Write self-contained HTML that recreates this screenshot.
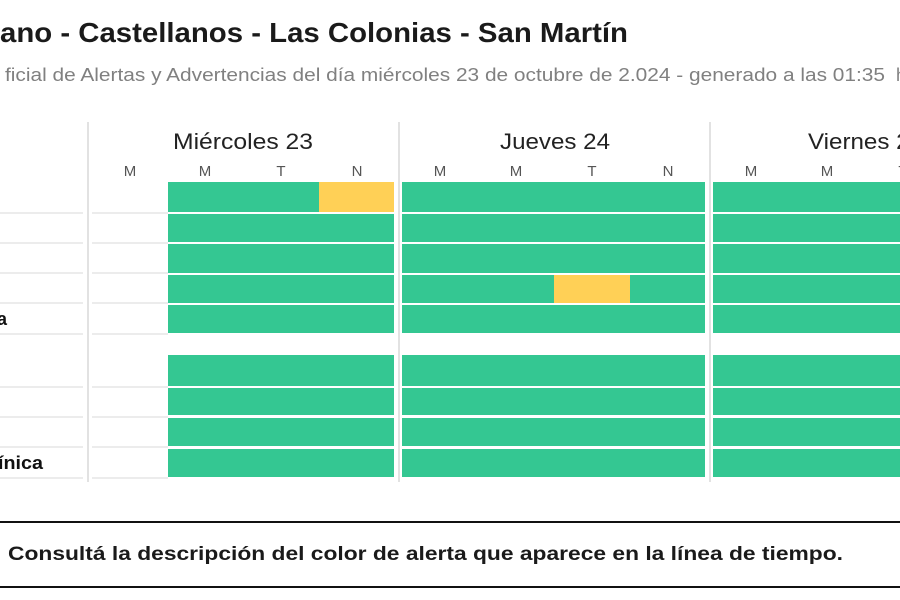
<!DOCTYPE html>
<html><head><meta charset="utf-8"><style>
html,body{margin:0;padding:0;background:#fff;width:900px;height:600px;overflow:hidden}
svg text{font-family:"Liberation Sans",sans-serif}
</style></head><body>
<svg width="900" height="600" viewBox="0 0 900 600" xmlns="http://www.w3.org/2000/svg">
<rect width="900" height="600" fill="#fff"/>
<text x="0" y="42" font-size="28" font-weight="bold" fill="#1a1a1a" textLength="628" lengthAdjust="spacingAndGlyphs">ano - Castellanos - Las Colonias - San Martín</text>
<text x="5" y="81" font-size="18" fill="#808080" textLength="880" lengthAdjust="spacingAndGlyphs">ficial de Alertas y Advertencias del día miércoles 23 de octubre de 2.024 - generado a las 01:35</text>
<text x="896" y="81" font-size="18" fill="#808080">h</text>

<rect x="87" y="122" width="2" height="360" fill="#e2e2e2"/>
<rect x="398" y="122" width="2" height="360" fill="#e2e2e2"/>
<rect x="709" y="122" width="2" height="360" fill="#e2e2e2"/>

<text x="243" y="149" font-size="22" fill="#222" text-anchor="middle" textLength="140" lengthAdjust="spacingAndGlyphs">Miércoles 23</text>
<text x="555" y="149" font-size="22" fill="#222" text-anchor="middle" textLength="110" lengthAdjust="spacingAndGlyphs">Jueves 24</text>
<text x="808" y="149" font-size="22" fill="#222" textLength="115" lengthAdjust="spacingAndGlyphs">Viernes 25</text>

<g font-size="15" fill="#555" text-anchor="middle">
<text x="130" y="176">M</text><text x="205" y="176">M</text><text x="281" y="176">T</text><text x="357" y="176">N</text>
<text x="440" y="176">M</text><text x="516" y="176">M</text><text x="592" y="176">T</text><text x="668" y="176">N</text>
<text x="751" y="176">M</text><text x="827" y="176">M</text><text x="903" y="176">T</text>
</g>

<g fill="#ececec">
<rect x="0" y="212" width="83" height="2"/><rect x="92" y="212" width="76" height="2"/>
<rect x="0" y="242" width="83" height="2"/><rect x="92" y="242" width="76" height="2"/>
<rect x="0" y="272" width="83" height="2"/><rect x="92" y="272" width="76" height="2"/>
<rect x="0" y="302" width="83" height="2"/><rect x="92" y="302" width="76" height="2"/>
<rect x="0" y="333" width="83" height="2"/><rect x="92" y="333" width="76" height="2"/>
<rect x="0" y="386" width="83" height="2"/><rect x="92" y="386" width="76" height="2"/>
<rect x="0" y="416" width="83" height="2"/><rect x="92" y="416" width="76" height="2"/>
<rect x="0" y="446" width="83" height="2"/><rect x="92" y="446" width="76" height="2"/>
<rect x="0" y="477" width="83" height="2"/><rect x="92" y="477" width="76" height="2"/>
</g>

<g fill="#34c792">
<rect x="168" y="182" width="226" height="30"/><rect x="402" y="182" width="303" height="30"/><rect x="713" y="182" width="187" height="30"/>
<rect x="168" y="214" width="226" height="28"/><rect x="402" y="214" width="303" height="28"/><rect x="713" y="214" width="187" height="28"/>
<rect x="168" y="244" width="226" height="29"/><rect x="402" y="244" width="303" height="29"/><rect x="713" y="244" width="187" height="29"/>
<rect x="168" y="275" width="226" height="28"/><rect x="402" y="275" width="303" height="28"/><rect x="713" y="275" width="187" height="28"/>
<rect x="168" y="305" width="226" height="28"/><rect x="402" y="305" width="303" height="28"/><rect x="713" y="305" width="187" height="28"/>
<rect x="168" y="355" width="226" height="31"/><rect x="402" y="355" width="303" height="31"/><rect x="713" y="355" width="187" height="31"/>
<rect x="168" y="388" width="226" height="27"/><rect x="402" y="388" width="303" height="27"/><rect x="713" y="388" width="187" height="27"/>
<rect x="168" y="418" width="226" height="28"/><rect x="402" y="418" width="303" height="28"/><rect x="713" y="418" width="187" height="28"/>
<rect x="168" y="449" width="226" height="28"/><rect x="402" y="449" width="303" height="28"/><rect x="713" y="449" width="187" height="28"/>
</g>
<g fill="#ffd056">
<rect x="319" y="182" width="75" height="30"/>
<rect x="554" y="275" width="76" height="28"/>
</g>

<g font-size="18" font-weight="bold" fill="#111">
<text x="-3" y="325">a</text>
<text x="-2" y="469" textLength="45" lengthAdjust="spacingAndGlyphs">ínica</text>
</g>

<rect x="0" y="521" width="900" height="2" fill="#111"/>
<rect x="0" y="586" width="900" height="2" fill="#111"/>
<text x="8" y="560" font-size="19" font-weight="bold" fill="#1a1a1a" textLength="835" lengthAdjust="spacingAndGlyphs">Consultá la descripción del color de alerta que aparece en la línea de tiempo.</text>
</svg>
</body></html>
